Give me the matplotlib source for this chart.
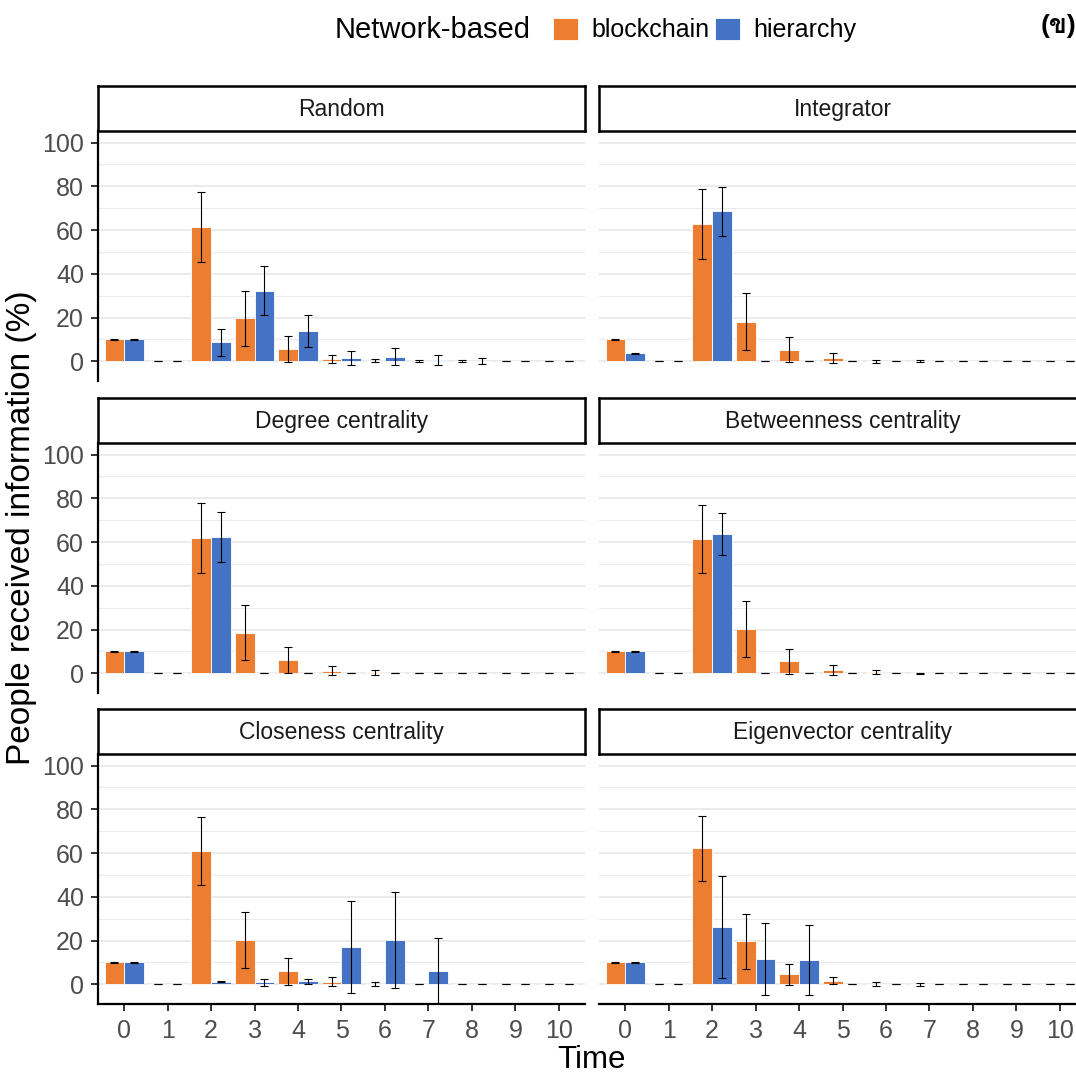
import matplotlib
matplotlib.use("Agg")
import matplotlib.pyplot as plt
import numpy as np
from matplotlib.ticker import MultipleLocator


# CONFIGURACIÓN

FIG_W, FIG_H = 1076, 1073
DPI = 100

COLOR_BC = "#ED7D31"
COLOR_H = "#4472C4"
GRID_COLOR = "#EBEBEB"
TICK_TEXT = "#4D4D4D"

plt.rcParams["font.family"] = ["Liberation Sans", "DejaVu Sans"]


# DATOS

times = list(range(11))
time_labels = [str(t) for t in times]

group_names = ["blockchain", "hierarchy"]

panel_titles = [
    "Random",
    "Integrator",
    "Degree centrality",
    "Betweenness centrality",
    "Closeness centrality",
    "Eigenvector centrality",
]

random_bc = [10, 0, 61.3, 19.7, 5.6, 1.2, 0.3, 0.1, 0.1, 0, 0]
random_bc_err = [0.2, 0, 16.0, 12.6, 5.8, 1.9, 0.8, 0.5, 0.3, 0, 0]
random_h = [10, 0, 8.7, 32.3, 13.7, 1.5, 2.0, 0.6, 0, 0, 0]
random_h_err = [0.2, 0, 6.3, 11.3, 7.3, 3.4, 3.9, 2.5, 1.4, 0, 0]

integrator_bc = [10, 0, 63.0, 18.2, 5.4, 1.4, 0.1, 0.1, 0, 0, 0]
integrator_bc_err = [0.2, 0, 16.0, 12.9, 5.6, 2.3, 0.7, 0.6, 0, 0, 0]
integrator_h = [3.7, 0, 68.5, 0, 0, 0, 0, 0, 0, 0, 0]
integrator_h_err = [0.2, 0, 11.0, 0, 0, 0, 0, 0, 0, 0, 0]

degree_bc = [10, 0, 61.8, 18.6, 6.1, 1.2, 0.4, 0, 0, 0, 0]
degree_bc_err = [0.2, 0, 16.0, 12.7, 5.9, 2.0, 1.1, 0, 0, 0, 0]
degree_h = [10, 0, 62.4, 0, 0, 0, 0, 0, 0, 0, 0]
degree_h_err = [0.2, 0, 11.5, 0, 0, 0, 0, 0, 0, 0, 0]

betweenness_bc = [10, 0, 61.5, 20.2, 5.5, 1.5, 0.4, 0.05, 0, 0, 0]
betweenness_bc_err = [0.2, 0, 15.5, 12.7, 5.6, 2.3, 0.9, 0.3, 0, 0, 0]
betweenness_h = [10, 0, 63.8, 0, 0, 0, 0, 0, 0, 0, 0]
betweenness_h_err = [0.2, 0, 9.5, 0, 0, 0, 0, 0, 0, 0, 0]

closeness_bc = [10, 0, 60.8, 20.2, 5.9, 1.2, 0.3, 0, 0, 0, 0]
closeness_bc_err = [0.2, 0, 15.6, 12.7, 6.2, 2.0, 0.9, 0, 0, 0, 0]
closeness_h = [10, 0, 1.1, 0.9, 1.3, 16.9, 20.3, 6.2, 0, 0, 0]
closeness_h_err = [0.2, 0, 0.2, 1.7, 1.3, 21.0, 22.1, 15.0, 0, 0, 0]

eigenvector_bc = [10, 0, 62.2, 19.7, 4.5, 1.6, 0.3, 0.05, 0, 0, 0]
eigenvector_bc_err = [0.2, 0, 14.8, 12.6, 4.7, 1.6, 0.9, 0.6, 0, 0, 0]
eigenvector_h = [10, 0, 26.0, 11.6, 11.1, 0, 0, 0, 0, 0, 0]
eigenvector_h_err = [0.2, 0, 23.3, 16.3, 15.8, 0, 0, 0, 0, 0, 0]

panels = [
    (random_bc, random_bc_err, random_h, random_h_err),
    (integrator_bc, integrator_bc_err, integrator_h, integrator_h_err),
    (degree_bc, degree_bc_err, degree_h, degree_h_err),
    (betweenness_bc, betweenness_bc_err, betweenness_h, betweenness_h_err),
    (closeness_bc, closeness_bc_err, closeness_h, closeness_h_err),
    (eigenvector_bc, eigenvector_bc_err, eigenvector_h, eigenvector_h_err),
]


# DISPOSICIÓN (en píxeles de la figura)

COL_LEFT = [98, 599]
PANEL_W = 487
ROW_TOP = [131, 443, 754]
PANEL_H = 250
STRIP_H = 45

BAR_W = 0.45
Y_LIM = (-9.0, 105.3)
X_LIM = (-0.6, 10.6)


def rect(x, y_top, w, h):
    return [x / FIG_W, 1 - (y_top + h) / FIG_H, w / FIG_W, h / FIG_H]


fig = plt.figure(figsize=(FIG_W / DPI, FIG_H / DPI), dpi=DPI)

x = np.array(times)
handles = None

for i, (title, (bc, bc_err, h, h_err)) in enumerate(zip(panel_titles, panels)):
    row, col = divmod(i, 2)
    left = COL_LEFT[col]
    top = ROW_TOP[row]

    ax = fig.add_axes(rect(left, top, PANEL_W, PANEL_H))

    # rejilla mayor y menor
    ax.yaxis.set_major_locator(MultipleLocator(20))
    ax.yaxis.set_minor_locator(MultipleLocator(10))
    ax.grid(axis="y", which="major", color=GRID_COLOR, linewidth=1.4)
    ax.grid(axis="y", which="minor", color=GRID_COLOR, linewidth=0.8)
    ax.set_axisbelow(True)

    b1 = ax.bar(x - BAR_W / 2, bc, width=BAR_W, color=COLOR_BC,
                edgecolor="white", linewidth=0.6, label=group_names[0])
    b2 = ax.bar(x + BAR_W / 2, h, width=BAR_W, color=COLOR_H,
                edgecolor="white", linewidth=0.6, label=group_names[1])
    handles = [b1, b2]

    ax.errorbar(x - BAR_W / 2, bc, yerr=bc_err, fmt="none", ecolor="black",
                elinewidth=0.8, capsize=2.9, capthick=0.8)
    ax.errorbar(x + BAR_W / 2, h, yerr=h_err, fmt="none", ecolor="black",
                elinewidth=0.8, capsize=2.9, capthick=0.8)

    ax.set_xlim(*X_LIM)
    ax.set_ylim(*Y_LIM)
    ax.set_xticks(times)
    ax.set_xticklabels(time_labels)
    ax.set_yticks([0, 20, 40, 60, 80, 100])

    for s in ["top", "right"]:
        ax.spines[s].set_visible(False)
    for s in ["left", "bottom"]:
        ax.spines[s].set_linewidth(1.6)
        ax.spines[s].set_color("black")

    ax.tick_params(axis="both", which="major", length=5, width=1.4,
                   color="#333333", labelcolor=TICK_TEXT, labelsize=18)
    ax.tick_params(axis="y", which="major", pad=5)
    ax.tick_params(axis="x", which="major", pad=6)
    ax.tick_params(axis="y", which="minor", length=0)

    if col == 1:
        ax.spines["left"].set_visible(False)
        ax.tick_params(axis="y", left=False, labelleft=False)
    if row < 2:
        ax.spines["bottom"].set_visible(False)
        ax.tick_params(axis="x", bottom=False, labelbottom=False)

    # franja con el nombre del panel
    sx = fig.add_axes(rect(left, top - STRIP_H, PANEL_W, STRIP_H))
    sx.set_xticks([])
    sx.set_yticks([])
    for s in sx.spines.values():
        s.set_linewidth(1.8)
        s.set_color("black")
    sx.text(0.5, 0.47, title, ha="center", va="center", fontsize=16.5,
            color="#1A1A1A", transform=sx.transAxes)


# ETIQUETAS DE EJES

fig.text(22 / FIG_W, 1 - 528 / FIG_H, "People received information (%)",
         rotation=90, ha="center", va="center", fontsize=24)
fig.text(592 / FIG_W, 1 - 1060 / FIG_H, "Time", ha="center", va="center",
         fontsize=22.5)


# LEYENDA

fig.text(335 / FIG_W, 1 - 30 / FIG_H, "Network-based", ha="left",
         va="center", fontsize=21)
fig.legend(handles, group_names, loc="center left",
           bbox_to_anchor=(543 / FIG_W, 1 - 30 / FIG_H), ncol=2,
           frameon=False, fontsize=18, handlelength=1.0, handleheight=1.0,
           handletextpad=0.55, columnspacing=0.2, borderaxespad=0)

fig.text(1076 / FIG_W, 1 - 26 / FIG_H, "(ข)", ha="right", va="center",
         fontsize=19, fontweight="bold",
         family=["Liberation Sans", "Loma", "Sarabun", "DejaVu Sans"])

fig.savefig("out.png", dpi=DPI)
plt.close(fig)
